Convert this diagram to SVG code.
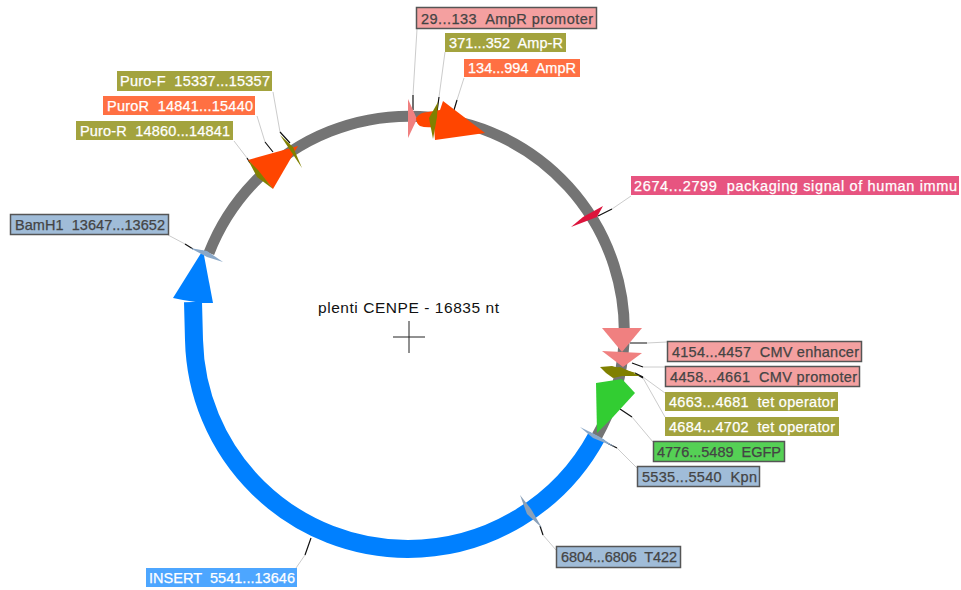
<svg xmlns="http://www.w3.org/2000/svg" width="961" height="590" viewBox="0 0 961 590">
<style>
text{font-family:"Liberation Sans",Arial,sans-serif;font-size:14.500px;white-space:pre;dominant-baseline:central;stroke-width:0.25px}
.lt{fill:#fff;stroke:#fff}
.dk{fill:#444;stroke:#444}
.b{stroke:#555;stroke-width:1.5}
.g{stroke:#ccc;stroke-width:1;fill:none}
.k{stroke:#111;stroke-width:1.2;fill:none}
.ol{fill:#a3a33e}.or{fill:#ff7043}.pk{fill:#f4a0a0}.st{fill:#a0bcd8}.gr{fill:#55d055}.bl{fill:#4da6ff}.rd{fill:#e75480}
</style>
<rect width="961" height="590" fill="#fff"/>
<g id="backbone">
<path d="M209 253A215 215 0 1 1 597 436" fill="none" stroke="#747474" stroke-width="11"/>
</g>
<g id="connectors">
<path class="g" d="M417 29L413 95M445 52L439 97M464 78L457 100M273 92L280 132M257 116L265 142M234 141L247 158M168 235L185 244M631 196L612 209M667 342L647 343M665 367L643 367M665 393L643 377M665 417L643 378M653 442L632 417M637 468L617 448M556 550L543 535M296 568L305 555"/>
<path class="k" d="M413 95L413 110M439 97L437 112M457 100L454 110M280 132L290 143M265 142L273 152M247 158L250 163M185 244L193 249M612 209L598 216M647 343L630 343M643 367L632 363M643 377L635 373M643 378L636 374M632 417L620 409M617 448L607 443M543 535L540 526M305 555L311 538"/>
</g>
<g id="f-insert">
<path d="M597 436A215 215 0 0 1 408 549A214 214 0 0 1 194 340L193 302" fill="none" stroke="#0080ff" stroke-width="18"/>
<polygon points="173,298 203,250 213,303 202,303 183,300" fill="#0080ff"/>
<rect class="bl" x="146" y="568" width="151" height="19"/>
<text class="lt" x="149" y="578" textLength="146">INSERT  5541...13646</text>
</g>
<g id="f-ampr-promoter">
<polygon points="408,99 417,119 408,138" fill="#f08080"/>
<rect class="pk b" x="416.500" y="7.500" width="180" height="21"/>
<text class="dk" x="421" y="18.500" textLength="172">29...133  AmpR promoter</text>
</g>
<g id="f-ampr">
<path d="M416 118Q420 112 428 112L440 110L443 101L485 133L435 140L434 127Q425 128 420 126Q416 123 416 118Z" fill="#ff4500"/>
<rect class="or" x="464" y="59" width="116" height="18"/>
<text class="lt" x="468" y="68" textLength="108">134...994  AmpR</text>
</g>
<g id="f-amp-r">
<polygon points="438,102 429,118 433,139 437,117" fill="#808000"/>
<rect class="ol" x="445" y="33" width="121" height="19"/>
<text class="lt" x="449" y="43" textLength="114">371...352  Amp-R</text>
</g>
<g id="f-puror">
<polygon points="248,160 298,146 273,189" fill="#ff4500"/>
<rect class="or" x="103" y="96" width="152" height="19"/>
<text class="lt" x="107" y="106" textLength="146">PuroR  14841...15440</text>
</g>
<g id="f-puro-f">
<polygon points="280,135 293,147 302,168 292,153" fill="#808000"/>
<rect class="ol" x="117" y="71" width="155" height="20"/>
<text class="lt" x="120" y="81" textLength="150">Puro-F  15337...15357</text>
</g>
<g id="f-puro-r">
<polygon points="248,160 258,170 273,189 257,177" fill="#808000"/>
<rect class="ol" x="76" y="121" width="157" height="19"/>
<text class="lt" x="80" y="131" textLength="150">Puro-R  14860...14841</text>
</g>
<g id="f-bamh1">
<polygon points="190,248 207,251 223,262 207,257" fill="#8aa8c8"/>
<rect class="st b" x="10.500" y="214.500" width="158" height="20"/>
<text class="dk" x="15" y="225" textLength="150">BamH1  13647...13652</text>
</g>
<g id="f-packaging">
<polygon points="603,206 597,217 571,227 583,217" fill="#dc143c"/>
<rect class="rd" x="631" y="176" width="328" height="19"/>
<text class="lt" x="634" y="186" textLength="323">2674...2799  packaging signal of human immu</text>
</g>
<g id="f-cmv-enh">
<polygon points="602,328 642,328 622,352" fill="#f08080"/>
<rect class="pk b" x="667.500" y="341.500" width="194" height="20"/>
<text class="dk" x="672" y="352" textLength="187">4154...4457  CMV enhancer</text>
</g>
<g id="f-cmv-pro">
<polygon points="602,351 642,353 623,367" fill="#f08080"/>
<rect class="pk b" x="665.500" y="366.500" width="194" height="20"/>
<text class="dk" x="670" y="377" textLength="187">4458...4661  CMV promoter</text>
</g>
<g id="f-tet1">
<polygon points="600,367 612,366 636,373 613,378 606,373" fill="#808000"/>
<rect class="ol" x="665" y="392" width="173" height="19"/>
<text class="lt" x="669" y="402" textLength="166">4663...4681  tet operator</text>
</g>
<g id="f-tet2">
<polygon points="604,369 620,367 640,376 620,376" fill="#808000"/>
<rect class="ol" x="665" y="417" width="174" height="19"/>
<text class="lt" x="669" y="427" textLength="166">4684...4702  tet operator</text>
</g>
<g id="f-egfp">
<polygon points="596,383 622,379 635,393 613,417 597,433" fill="#32cd32"/>
<rect class="gr b" x="653.500" y="441.500" width="131" height="20"/>
<text class="dk" x="657" y="452" textLength="124">4776...5489  EGFP</text>
</g>
<g id="f-kpn">
<polygon points="580,427 600,437 615,447 593,438" fill="#8aa8c8"/>
<rect class="st b" x="637.500" y="466.500" width="122" height="20"/>
<text class="dk" x="642" y="477" textLength="115">5535...5540  Kpn</text>
</g>
<g id="f-t422">
<polygon points="520,495 531,509 542,528 527,514" fill="#8aa0b8"/>
<rect class="st b" x="556.500" y="546.500" width="124" height="21"/>
<text class="dk" x="561" y="557" textLength="116">6804...6806  T422</text>
</g>
<g id="center">
<text x="318" y="307" style="font-size:15.500px;fill:#111;stroke:none" textLength="181">plenti CENPE - 16835 nt</text>
<path d="M393 337H425M409 321V353" stroke="#222" stroke-width="1" fill="none"/>
</g>
</svg>
